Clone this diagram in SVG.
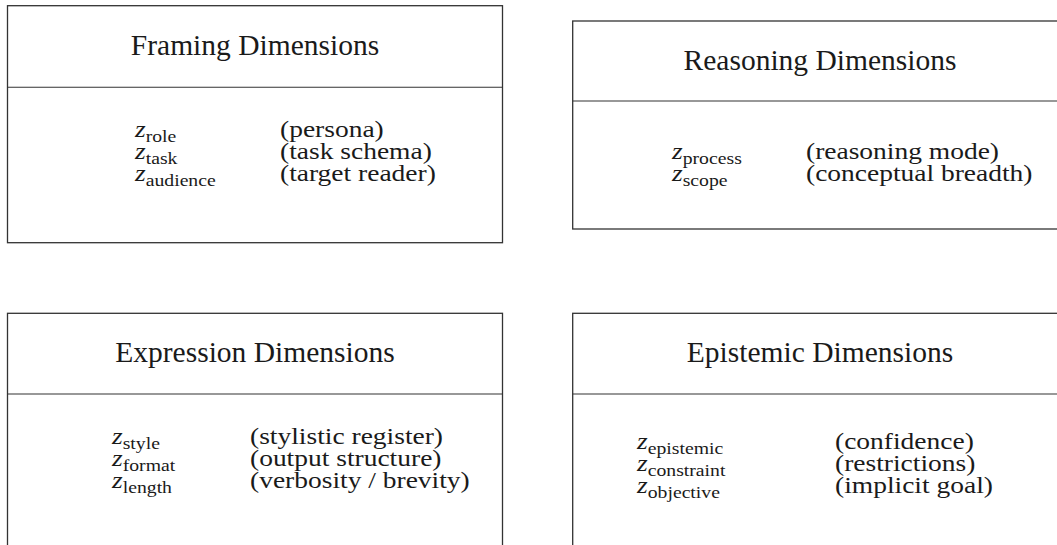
<svg xmlns="http://www.w3.org/2000/svg" width="1057" height="545" viewBox="0 0 1057 545" font-family="'Liberation Serif', 'DejaVu Serif', serif">
<style>
.box{fill:#fff;stroke:#333;stroke-width:1.3}
.div{stroke:#333;stroke-width:1.1}
text{fill:#1a1a1a}
.title{font-size:29.5px;text-anchor:middle}
.row{font-size:23px}
.z{font-style:italic}
.sub{font-size:16.5px;font-style:normal}
</style>
<rect width="1057" height="545" fill="#fff"/>
<g id="framing">
<rect class="box" x="7.5" y="5.7" width="495" height="237"/>
<line class="div" x1="7.5" y1="87.3" x2="502.5" y2="87.3"/>
<text class="title" x="255" y="55">Framing Dimensions</text>
<text class="row" transform="translate(135 137) scale(1.195 1)"><tspan class="z">z</tspan><tspan class="sub" dy="4.5">role</tspan></text>
<text class="row" transform="translate(135 159) scale(1.195 1)"><tspan class="z">z</tspan><tspan class="sub" dy="4.5">task</tspan></text>
<text class="row" transform="translate(135 181) scale(1.195 1)"><tspan class="z">z</tspan><tspan class="sub" dy="4.5">audience</tspan></text>
<text class="row" transform="translate(280 137) scale(1.195 1)">(persona)</text>
<text class="row" transform="translate(280 159) scale(1.195 1)">(task schema)</text>
<text class="row" transform="translate(280 181) scale(1.195 1)">(target reader)</text>
</g>
<g id="reasoning">
<rect class="box" x="572.7" y="21" width="495" height="208"/>
<line class="div" x1="572.7" y1="101" x2="1067.7" y2="101"/>
<text class="title" x="820" y="70">Reasoning Dimensions</text>
<text class="row" transform="translate(672 159) scale(1.195 1)"><tspan class="z">z</tspan><tspan class="sub" dy="4.5">process</tspan></text>
<text class="row" transform="translate(672 181) scale(1.195 1)"><tspan class="z">z</tspan><tspan class="sub" dy="4.5">scope</tspan></text>
<text class="row" transform="translate(806 159) scale(1.195 1)">(reasoning mode)</text>
<text class="row" transform="translate(806 181) scale(1.195 1)">(conceptual breadth)</text>
</g>
<g id="expression">
<rect class="box" x="7.5" y="313.3" width="495" height="260"/>
<line class="div" x1="7.5" y1="394" x2="502.5" y2="394"/>
<text class="title" x="255" y="362">Expression Dimensions</text>
<text class="row" transform="translate(112 444) scale(1.195 1)"><tspan class="z">z</tspan><tspan class="sub" dy="4.5">style</tspan></text>
<text class="row" transform="translate(112 466) scale(1.195 1)"><tspan class="z">z</tspan><tspan class="sub" dy="4.5">format</tspan></text>
<text class="row" transform="translate(112 488) scale(1.195 1)"><tspan class="z">z</tspan><tspan class="sub" dy="4.5">length</tspan></text>
<text class="row" transform="translate(250 444) scale(1.195 1)">(stylistic register)</text>
<text class="row" transform="translate(250 466) scale(1.195 1)">(output structure)</text>
<text class="row" transform="translate(250 488) scale(1.195 1)">(verbosity / brevity)</text>
</g>
<g id="epistemic">
<rect class="box" x="572.7" y="313.3" width="495" height="260"/>
<line class="div" x1="572.7" y1="394" x2="1067.7" y2="394"/>
<text class="title" x="820" y="362">Epistemic Dimensions</text>
<text class="row" transform="translate(637 449) scale(1.195 1)"><tspan class="z">z</tspan><tspan class="sub" dy="4.5">epistemic</tspan></text>
<text class="row" transform="translate(637 471) scale(1.195 1)"><tspan class="z">z</tspan><tspan class="sub" dy="4.5">constraint</tspan></text>
<text class="row" transform="translate(637 493) scale(1.195 1)"><tspan class="z">z</tspan><tspan class="sub" dy="4.5">objective</tspan></text>
<text class="row" transform="translate(835 449) scale(1.195 1)">(confidence)</text>
<text class="row" transform="translate(835 471) scale(1.195 1)">(restrictions)</text>
<text class="row" transform="translate(835 493) scale(1.195 1)">(implicit goal)</text>
</g>
<g id="connectors"/>
</svg>
